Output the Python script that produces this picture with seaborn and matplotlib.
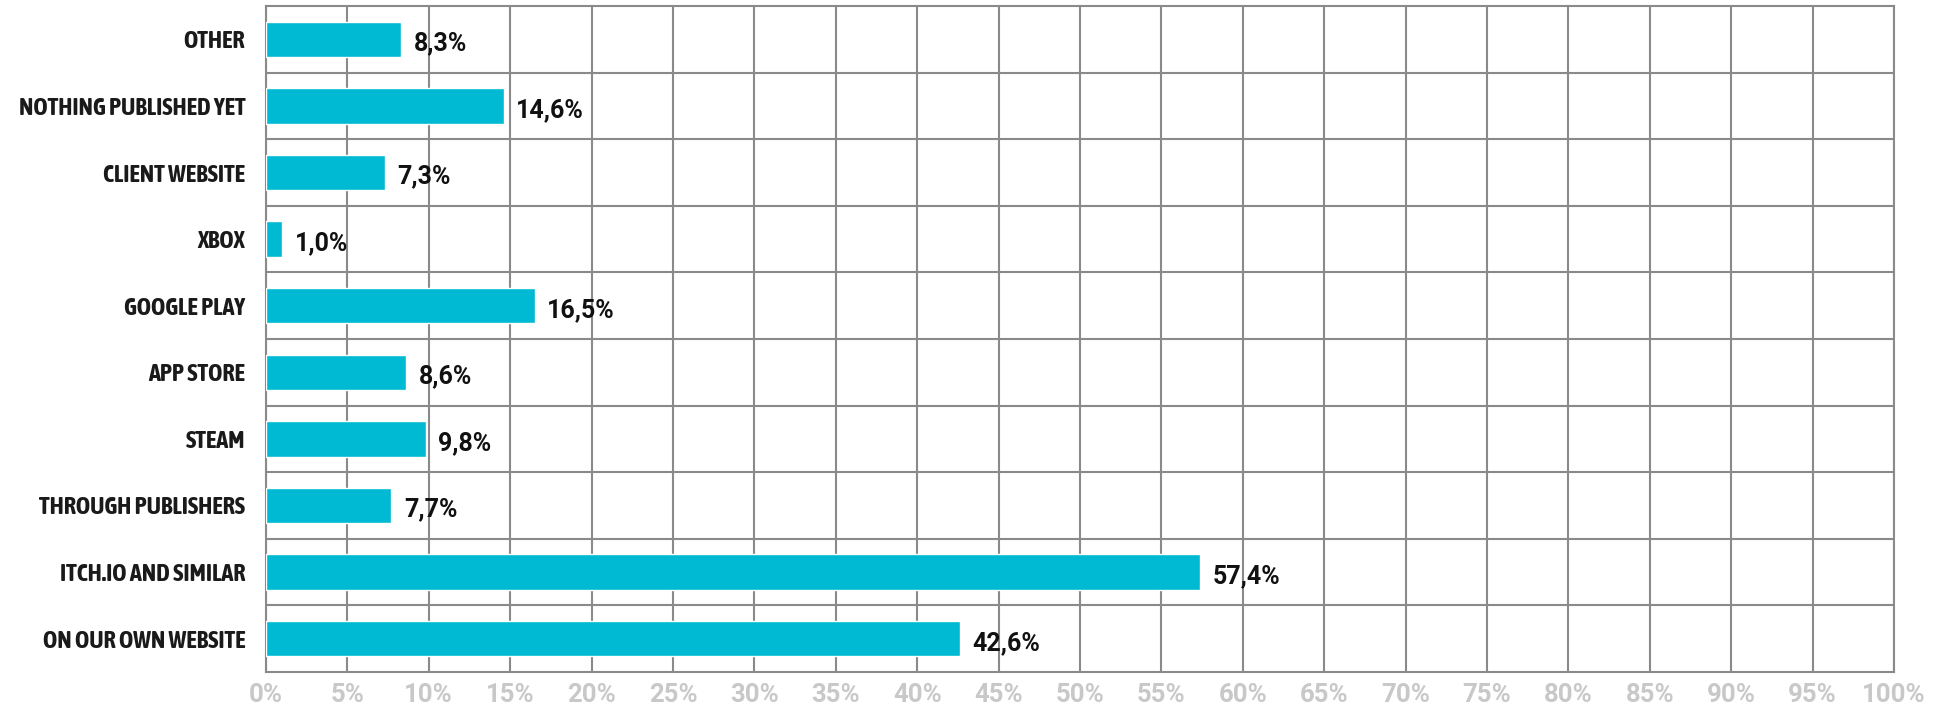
import matplotlib
matplotlib.use("Agg")
import matplotlib.pyplot as plt
import seaborn as sns
import pandas as pd
from matplotlib.ticker import FuncFormatter
from matplotlib import font_manager

categories = ["OTHER", "NOTHING PUBLISHED YET", "CLIENT WEBSITE", "XBOX", "GOOGLE PLAY",
              "APP STORE", "STEAM", "THROUGH PUBLISHERS", "ITCH.IO AND SIMILAR", "ON OUR OWN WEBSITE"]
values = [8.3, 14.6, 7.3, 1.0, 16.5, 8.6, 9.8, 7.7, 57.4, 42.6]
x_ticks = list(range(0, 101, 5))

sns.set_theme(style="white")
plt.rcParams['font.family'] = ['Roboto', 'DejaVu Sans']

# prefer a condensed bold face (not DejaVu) if installed
cond = None
for f in font_manager.fontManager.ttflist:
    fn = f.fname.lower()
    if "dejavu" in fn:
        continue
    if ("condensed" in fn or "narrow" in fn) and "bold" in fn and "semi" not in fn \
            and "extra" not in fn and "italic" not in fn:
        cond = f.fname
        break

df = pd.DataFrame({"category": categories, "value": values})

fig = plt.figure(figsize=(19.5, 7.13), dpi=100)
ax = fig.add_axes([266/1950, 1-672/713, (1894-266)/1950, (672-6)/713])

sns.barplot(data=df, y="category", x="value", orient="h", color="#00bad3",
            saturation=1, width=0.53, ax=ax, zorder=3)

ax.set_xlim(0, 100)
ax.set_ylim(len(categories)-0.5, -0.5)
ax.set_xticks(x_ticks)
ax.xaxis.set_major_formatter(FuncFormatter(lambda v, p: f"{int(v)}%"))
ax.set_yticks(range(len(categories)))
ax.set_yticklabels(categories)
ax.set_yticks([i + 0.5 for i in range(len(categories)-1)], minor=True)

grid_c = "#8a8a8a"
ax.grid(axis="x", which="major", color=grid_c, linewidth=1.5, zorder=0)
ax.grid(axis="y", which="minor", color=grid_c, linewidth=1.5, zorder=0)
ax.grid(axis="y", which="major", visible=False)
ax.set_axisbelow(True)
for s in ax.spines.values():
    s.set_color(grid_c)
    s.set_linewidth(1.5)
    s.set_visible(True)

ax.tick_params(axis="x", which="both", length=0, pad=8, labelsize=18.5, labelcolor="#c8c8c8")
ax.tick_params(axis="y", which="both", length=0, pad=15, labelcolor="#1a1a1a")
for lab in ax.get_xticklabels():
    lab.set_fontweight("bold")

# size the category labels so the longest one is about as wide as in the reference
def make_fp(size):
    if cond:
        return font_manager.FontProperties(fname=cond, size=size)
    return font_manager.FontProperties(family=['Roboto', 'DejaVu Sans'], weight='bold', size=size)

renderer = fig.canvas.get_renderer()
probe = fig.text(0, 0, "NOTHING PUBLISHED YET", fontproperties=make_fp(15))
w15 = probe.get_window_extent(renderer).width
probe.remove()
size = min(17.5, 15 * 230 / w15)
for lab in ax.get_yticklabels():
    lab.set_fontproperties(make_fp(size))
ax.set_xlabel("")
ax.set_ylabel("")

for i, v in enumerate(values):
    ax.annotate(f"{v:.1f}".replace(".", ",") + "%", xy=(v, i), xytext=(9, -3),
                textcoords="offset points", ha="left", va="center",
                fontsize=18, fontweight="bold", color="#111111")

fig.savefig("out.png", dpi=100)
